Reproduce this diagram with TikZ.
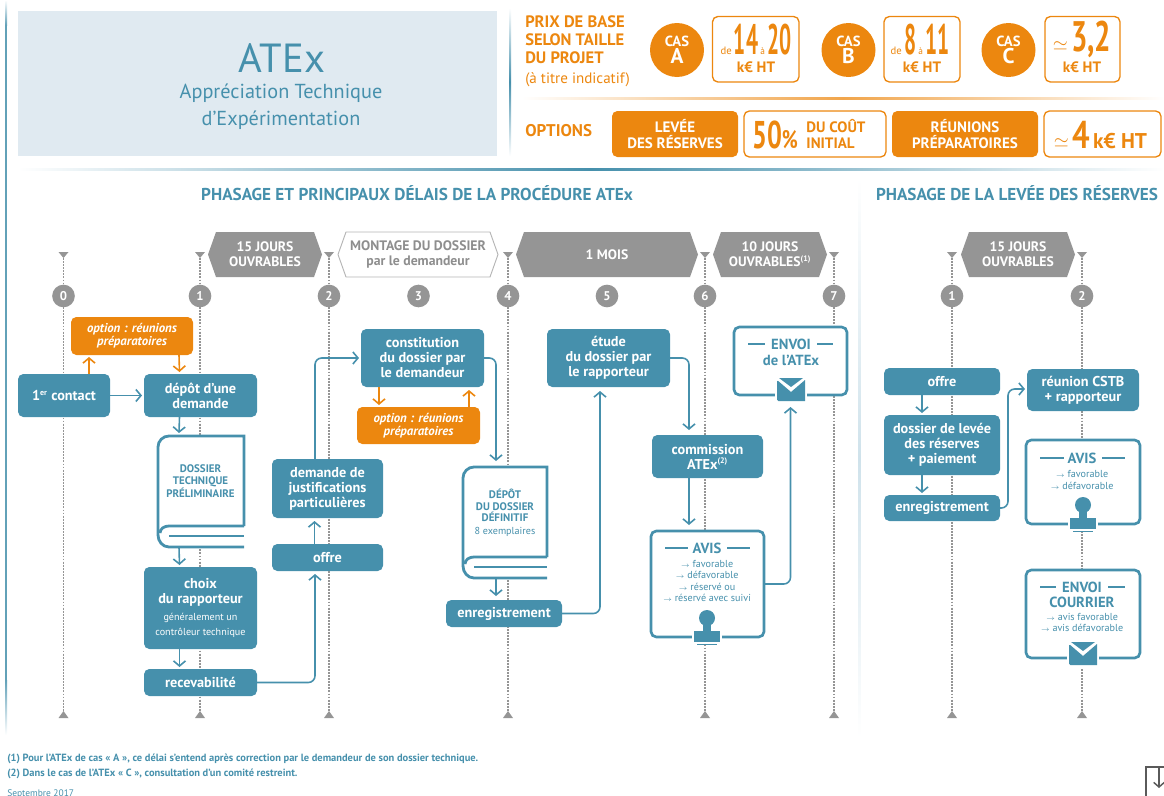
\documentclass[tikz,border=0pt]{standalone}
\usepackage{fontspec}
\usepackage{graphicx}
\setmainfont{PT Sans}
\usetikzlibrary{arrows.meta,calc}
\definecolor{tl}{HTML}{4690AC}
\definecolor{org}{HTML}{EC870F}
\definecolor{gry}{HTML}{959595}
\definecolor{pale}{HTML}{E0EAF1}
\definecolor{sep}{HTML}{CFE2EB}
\newcommand{\fs}[2]{\fontsize{#1}{#2}\selectfont}
% \bx[style]{name}{x1}{y1}{x2}{y2}{text}
\newcommand{\bx}[7][]{%
  \pgfmathsetmacro\rsW{(#5-#3)*0.75}\pgfmathsetmacro\rsH{(#6-#4)*0.75}%
  \pgfmathsetmacro\rsX{(#3+#5)/2}\pgfmathsetmacro\rsY{(#4+#6)/2}%
  \node[minimum width=\rsW pt,minimum height=\rsH pt,inner sep=0pt,outer sep=0pt,align=center,#1] (#2) at (\rsX,\rsY) {#7};}
% banner polygon
\newcommand{\banner}[7][]{%
  \path[#1] (#3,#6) -- (#3+8,#4) -- (#5-8,#4) -- (#5,#6) -- (#5-8,2*#6-#4) -- (#3+8,2*#6-#4) -- cycle;
  \node[font=\bfseries\fs{10.3}{11.2},align=center,inner sep=0pt] (#2) at ({(#3+#5)/2},#6) {#7};}
% timeline: name x label
\newcommand{\tline}[3]{%
  \coordinate (t#1) at (#2,255); \coordinate (b#1) at (#2,713);
  \draw[dotl] (t#1) -- (b#1);
  \fill[gry] (#2-5,252) -- (#2+5,252) -- (#2,258) -- cycle;
  \fill[gry] (#2-5,718) -- (#2+5,718) -- (#2,711) -- cycle;
  \node[num] (n#1) at (#2,296) {#3};}
\newcommand{\book}[3]{%
  \begin{scope}[shift={(#1,#2)},line width=2.1pt,draw=tl,line join=miter]
    \draw[tl] (#3,91) -- (#3,1) -- (12,1) to[out=180,in=90] (1,12) -- (1,100) to[out=-90,in=180] (12,112) -- (#3,112);
    \draw[tl] (#3,91) -- (12,91) to[out=180,in=90] (3,98);
    \draw[tl] (12,101) -- (#3,101);
  \end{scope}}
\newcommand{\envel}[2]{%
  \begin{scope}[shift={(#1,#2)}]
    \fill[white] (-16,-4) rectangle (16,24);
    \fill[tl] (-14,-1) -- (0,11) -- (14,-1) -- (14,20) [rounded corners=1pt] -- (-14,20) -- cycle;
    \fill[tl] (-12,-3) -- (12,-3) -- (0,6) -- cycle;
  \end{scope}}
\newcommand{\stamp}[2]{%
  \begin{scope}[shift={(#1,#2)}]
    \fill[white] (-15,-11) rectangle (15,26);
    \fill[tl] (0,0) circle (8);
    \fill[tl] (-4,5) rectangle (4,14);
    \fill[tl] (-13,13) rectangle (13,24);
    \fill[tl] (-10,25.5) rectangle (10,27);
  \end{scope}}
\tikzset{
  tbox/.style={fill=tl,rounded corners=4pt,text=white,font=\bfseries\fs{10.7}{11.25}},
  obox/.style={fill=org,rounded corners=4pt,text=white,font=\bfseries\itshape\fs{9.6}{10}},
  wbox/.style={fill=white,draw=tl,line width=2pt,rounded corners=4pt},
  pbox/.style={fill=org,rounded corners=4pt,text=white,font=\bfseries\fs{11.3}{12}},
  qbox/.style={fill=white,draw=org,line width=1pt,rounded corners=4pt,text=org},
  circ/.style={circle,fill=org,text=white,minimum size=40.5pt,inner sep=0pt,align=center},
  arr/.style={draw=tl,line width=1.2pt,-{Straight Barb[length=3.8pt,width=9pt]},rounded corners=5pt},
  oarr/.style={draw=org,line width=1.2pt,-{Straight Barb[length=3.8pt,width=9pt]}},
  dotl/.style={draw=gry,line width=1pt,dash pattern=on 1.4pt off 0.9pt},
  num/.style={circle,fill=gry,text=white,minimum size=17pt,inner sep=0pt,font=\bfseries\fs{9.5}{10}},
  head/.style={text=tl,font=\bfseries\fs{12.9}{14},inner sep=0pt},
  big/.style={inner sep=0pt,text=org},
  sml/.style={text=tl,font=\fs{7.6}{8.7},align=center,inner sep=0pt},
  ttl/.style={text=tl,font=\bfseries\fs{11}{11.5},align=center,inner sep=0pt},
  bar/.style={draw=tl,line width=2pt},
  ptx/.style={text=org,font=\bfseries\fs{12.4}{13.6},align=left,inner sep=0pt,anchor=north west}
}
\begin{document}
\begin{tikzpicture}[x=0.75pt,y=-0.75pt]
\useasboundingbox (0,0) rectangle (1164,796);
\clip (0,0) rectangle (1164,796);
% frame rules
\shade[top color=white,bottom color=tl!85] (5,0) rectangle (7,25);
\fill[tl!85] (5,25) rectangle (7,680);
\shade[top color=tl!85,bottom color=white] (5,680) rectangle (7,735);
\shade[left color=white,right color=white,middle color=tl] (18,168) rectangle (1164,170.5);
\shade[top color=white,bottom color=white,middle color=tl] (509,8) rectangle (511,156);
\shade[left color=white,right color=white,middle color=org!75] (522,97) rectangle (1164,99);
\shade[top color=white,bottom color=white,middle color=sep] (858,178) rectangle (860.5,738);
% title block
\bx[fill=pale]{title}{18}{11}{497}{156}{}
\node[text=tl,inner sep=0pt,font=\fs{30.5}{32}] (atex) at (282,58) {ATEx};
\node[text=tl,inner sep=0pt,font=\fs{15.2}{20.25},align=center] (sub) at (281,107) {Appréciation Technique\\d’Expérimentation};
% price block
\node[ptx] (prix) at (525,15.5) {PRIX DE BASE\\SELON TAILLE\\DU PROJET\\[1pt]\mdseries\fs{11.3}{13}(à titre indicatif)};
\node[circ,font=\bfseries\fs{11}{13}] (ca) at (677,50) {CAS\\\fs{16}{15}A};
\bx[qbox]{pa}{712.5}{16.5}{799}{82}{}
\node[big] (pan) at (756,39.5) {{\fs{8}{8}de}\,\scalebox{.5}[1]{\bfseries\fs{32}{32}14}\,{\fs{7}{8}à}\,\scalebox{.5}[1]{\bfseries\fs{32}{32}20}};
\node[big,font=\bfseries\fs{11.3}{12}] (pah) at (756,67) {k€ HT};
\node[circ,font=\bfseries\fs{11}{13}] (cb) at (848.5,50) {CAS\\\fs{16}{15}B};
\bx[qbox]{pb}{884}{16.5}{960}{82}{}
\node[big] (pbn) at (920,39.5) {{\fs{8}{8}de}\,\scalebox{.5}[1]{\bfseries\fs{32}{32}8}\,{\fs{7}{8}à}\,\scalebox{.5}[1]{\bfseries\fs{32}{32}11}};
\node[big,font=\bfseries\fs{11.3}{12}] (pbh) at (922,67) {k€ HT};
\node[circ,font=\bfseries\fs{11}{13}] (cc) at (1008.5,50) {CAS\\\fs{16}{15}C};
\bx[qbox]{pc}{1045}{16.5}{1120}{82}{}
\node[big] (pcn) at (1082,39.5) {\fs{15}{15}\raisebox{1pt}{$\simeq$}\,\scalebox{.68}[1]{\bfseries\fs{32}{32}3,2}};
\node[big,font=\bfseries\fs{11.3}{12}] (pch) at (1082,67) {k€ HT};
% options
\node[text=org,font=\bfseries\fs{12.7}{14},inner sep=0pt,anchor=west] (opt) at (525,131) {OPTIONS};
\bx[pbox]{o1}{612}{111}{738}{157}{LEVÉE\\DES RÉSERVES}
\bx[qbox]{o2}{744}{111}{886}{157}{}
\node[big] (o2a) at (775,135) {\scalebox{.68}[1]{\bfseries\fs{29}{29}50}\scalebox{.75}[1]{\bfseries\fs{19}{19}\%}};
\node[big,font=\bfseries\fs{11.3}{12},align=left] (o2b) at (836,134) {DU COÛT\\INITIAL};
\bx[pbox]{o3}{892}{111}{1038}{157}{RÉUNIONS\\PRÉPARATOIRES}
\bx[qbox]{o4}{1044}{111}{1161}{157}{}
\node[big] (o4a) at (1100.5,135) {\fs{15}{15}\raisebox{1pt}{$\simeq$}\,\scalebox{.8}[1]{\bfseries\fs{29}{29}4}\,{\bfseries\fs{16}{15}k€ HT}};
% headings
\node[head] (h1) at (417,193) {PHASAGE ET PRINCIPAUX DÉLAIS DE LA PROCÉDURE ATEx};
\node[head] (h2) at (1017,193) {PHASAGE DE LA LEVÉE DES RÉSERVES};
% timelines
\tline{0}{63.5}{0}\tline{1}{200}{1}\tline{2}{329}{2}\tline{4}{508}{4}\tline{6}{705}{6}\tline{7}{834}{7}
\node[num] (n3) at (418.5,296) {3};
\node[num] (n5) at (607,296) {5};
\tline{r1}{952}{1}\tline{r2}{1082}{2}
% banners
\banner[fill=gry]{b15}{208}{232}{322}{254.5}{\color{white}15 JOURS\\\color{white}OUVRABLES}
\banner[fill=white,draw=gry!70,line width=.7pt]{bmon}{338}{232}{498}{254.5}{\color{gry!95!black}MONTAGE DU DOSSIER\\\color{gry!95!black}par le demandeur}
\banner[fill=gry]{bm}{516}{232}{698}{254.5}{\color{white}1 MOIS}
\banner[fill=gry]{b10}{713}{232}{827}{254.5}{\color{white}10 JOURS\\\color{white}OUVRABLES\textsuperscript{\fs{6}{6}(1)}}
\banner[fill=gry]{br15}{961}{232}{1075}{254.5}{\color{white}15 JOURS\\\color{white}OUVRABLES}
% main boxes
\bx[obox]{op1}{71}{317}{193}{355}{option : réunions\\préparatoires}
\bx[tbox]{cont}{18}{374}{110}{417}{1\textsuperscript{\fs{6}{6}er} contact}
\bx[tbox]{depot}{144}{374}{257}{417}{dépôt d’une\\demande}
\bx[fill=white]{bk1}{157}{435}{245}{547}{}
\book{157}{435}{87}
\node[text=tl,font=\bfseries\fs{8.2}{8.8},align=center,inner sep=0pt] (bk1t) at (200.5,481) {DOSSIER\\TECHNIQUE\\PRÉLIMINAIRE};
\bx[tbox]{choix}{144}{567}{257}{649}{choix\\du rapporteur\\[2pt]\mdseries\fs{7.6}{8.7}généralement un\\\mdseries\fs{7.6}{8.7}contrôleur technique}
\bx[tbox]{recev}{144}{669}{257}{696}{recevabilité}
\bx[tbox]{just}{272}{459}{383}{518}{demande de\\justifications\\particulières}
\bx[tbox]{off}{272}{544}{383}{571}{offre}
\bx[tbox]{const}{361}{329}{484}{387}{constitution\\du dossier par\\le demandeur}
\bx[obox]{op2}{357}{407}{480}{444}{option : réunions\\préparatoires}
\bx[fill=white]{bk2}{462}{466}{548}{578}{}
\book{462}{466}{85}
\node[text=tl,font=\bfseries\fs{8.2}{8.8},align=center,inner sep=0pt] (bk2t) at (505,505.5) {DÉPÔT\\DU DOSSIER\\DÉFINITIF};
\node[sml] (bk2s) at (505,532) {8 exemplaires};
\bx[tbox]{enr}{446}{600}{562}{627}{enregistrement}
\bx[tbox]{etude}{547}{329}{670}{387}{étude\\du dossier par\\le rapporteur}
\bx[tbox]{comm}{652}{435}{763}{478}{commission\\ATEx\textsuperscript{\fs{6}{6}(2)}}
\bx[wbox]{avis}{651}{531}{764}{637}{}
\node[ttl] (avist) at (707,548) {AVIS};
\draw[bar] (665,548) -- (688,548) (727,548) -- (750,548);
\node[sml] (avisl) at (707,581) {$\scriptscriptstyle\rightarrow$ favorable\\$\scriptscriptstyle\rightarrow$ défavorable\\$\scriptscriptstyle\rightarrow$ réservé ou\\$\scriptscriptstyle\rightarrow$ réservé avec suivi};
\stamp{707}{618}
\bx[wbox]{env}{734}{327}{847}{395}{}
\node[ttl] (envt) at (791,344.5) {ENVOI};
\draw[bar] (748,344) -- (765,344) (817,344) -- (833,344);
\node[ttl] (envs) at (791,360) {de l’ATEx};
\envel{791}{381}
% right boxes
\bx[tbox]{roff}{884}{368}{1000}{395}{offre}
\bx[tbox]{rdos}{884}{415}{1000}{475}{dossier de levée\\des réserves\\+ paiement}
\bx[tbox]{renr}{884}{495}{1000}{521}{enregistrement}
\bx[tbox]{rcstb}{1027}{369}{1139}{411}{réunion CSTB\\+ rapporteur}
\bx[wbox]{ravis}{1026}{440}{1140}{524}{}
\node[ttl] (ravt) at (1082,458) {AVIS};
\draw[bar] (1040,458) -- (1064,458) (1102,458) -- (1125,458);
\node[sml] (ravl) at (1082,480) {$\scriptscriptstyle\rightarrow$ favorable\\$\scriptscriptstyle\rightarrow$ défavorable};
\stamp{1083}{505}
\bx[wbox]{renv}{1026}{570}{1140}{658}{}
\node[ttl] (renvt) at (1082,587) {ENVOI};
\draw[bar] (1040,587) -- (1056,587) (1108,587) -- (1125,587);
\node[ttl] (renvs) at (1082,602) {COURRIER};
\node[sml] (renvl) at (1082,622.5) {$\scriptscriptstyle\rightarrow$ avis favorable\\$\scriptscriptstyle\rightarrow$ avis défavorable};
\envel{1083}{645}
% connectors
\draw[oarr] ($(cont.north)+(25,0)$) -- ($(op1.south)+(-43,2)$);
\draw[oarr] ($(op1.south)+(47,0)$) -- ($(depot.north)+(-21,-2)$);
\draw[arr] (cont.east) -- ($(depot.west)+(-2,0)$);
\draw[arr] ($(depot.south)+(-21,0)$) -- ($(bk1.north)+(-22,-2)$);
\draw[arr] ($(bk1.south)+(-22,0)$) -- ($(choix.north)+(-21,-2)$);
\draw[arr] ($(choix.south)+(-21,0)$) -- ($(recev.north)+(-21,-2)$);
\draw[arr] (recev.east) -| ($(off.south)+(-12.5,3)$);
\draw[arr] ($(off.north)+(-13,0)$) -- ($(just.south)+(-13,3)$);
\draw[arr] ($(just.north)+(-12.5,0)$) |- ($(const.west)+(-2,0)$);
\draw[oarr] ($(const.south)+(-43.5,0)$) -- ($(op2.north)+(-39.5,-2)$);
\draw[oarr] ($(op2.north)+(50.5,0)$) -- ($(const.south)+(46.5,3)$);
\draw[arr] (const.east) -| ($(bk2.north)+(-9,-5)$);
\draw[arr] ($(bk2.south)+(-9,1)$) -- ($(enr.north)+(-8,-4)$);
\draw[arr] (enr.east) -| ($(etude.south)+(-8.5,4)$);
\draw[arr] (etude.east) -| ($(comm.north)+(-18.5,-5)$);
\draw[arr] ($(comm.south)+(-18.5,0)$) -- ($(avis.north)+(-18.5,-6)$);
\draw[arr] (avis.east) -| ($(env.south)+(0,12)$);
\draw[arr] ($(roff.south)+(-20,0)$) -- ($(rdos.north)+(-20,-2)$);
\draw[arr] ($(rdos.south)+(-20,0)$) -- ($(renr.north)+(-20,-2)$);
\draw[arr] (renr.east) -- ++(8,0) |- ($(rcstb.west)+(-2,-1)$);
% footnotes
\node[text=tl,font=\bfseries\fs{7.85}{11.2},align=left,inner sep=0pt,anchor=north west] (fn) at (7,754) {(1) Pour l’ATEx de cas « A », ce délai s’entend après correction par le demandeur de son dossier technique.\\(2) Dans le cas de l’ATEx « C », consultation d’un comité restreint.};
\node[text=tl,font=\fs{7.1}{9},inner sep=0pt,anchor=west] (sept) at (7,794) {Septembre 2017};
% icon
\draw[gry!60!black,line width=1.1pt] (1164,767) -- (1146,767) -- (1146,796);
\draw[gry!60!black,line width=1.1pt,-{Straight Barb[length=3.5pt,width=8pt]}] (1159,767) -- (1159,788);
\end{tikzpicture}
\end{document}
